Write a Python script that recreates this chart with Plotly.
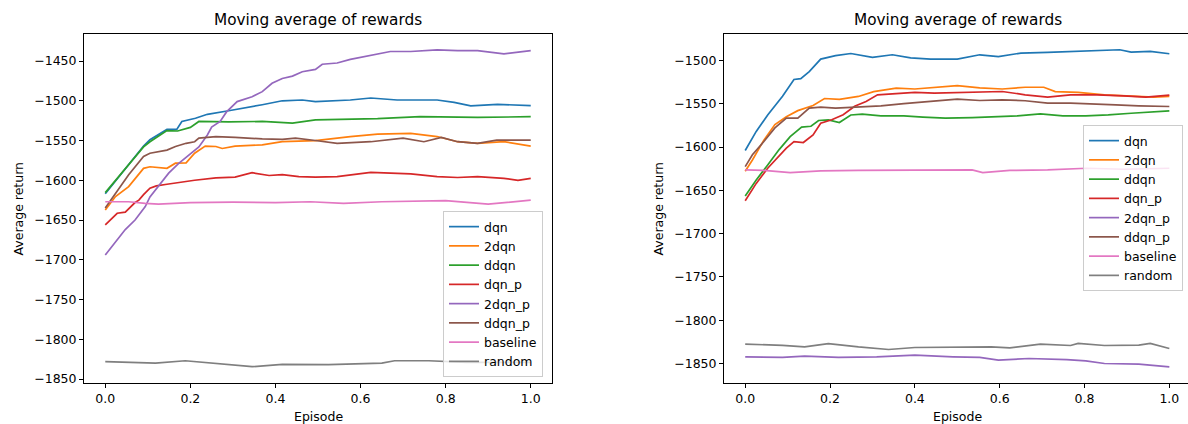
import plotly.graph_objects as go

W, H = 1188, 424
names = ["dqn", "2dqn", "ddqn", "dqn_p", "2dqn_p", "ddqn_p", "baseline", "random"]
colors = ["#1f77b4", "#ff7f0e", "#2ca02c", "#d62728", "#9467bd", "#8c564b", "#e377c2", "#7f7f7f"]

# tick labels
x_ticks = [0, 0.2, 0.4, 0.6, 0.8, 1.0]
x_ticklabels = ["0.0", "0.2", "0.4", "0.6", "0.8", "1.0"]
L_yticks = [-1850, -1800, -1750, -1700, -1650, -1600, -1550, -1500, -1450]
R_yticks = [-1850, -1800, -1750, -1700, -1650, -1600, -1550, -1500]

# ---------- left panel ----------
L_dqn_x = [0, 0.055, 0.09, 0.105, 0.145, 0.168, 0.18, 0.212, 0.24, 0.29, 0.326, 0.369, 0.416, 0.463, 0.494, 0.545, 0.576, 0.624, 0.686, 0.78, 0.82, 0.859, 0.922, 1.0]
L_dqn_y = [-1617, -1581, -1557, -1549, -1536, -1536, -1526, -1522, -1517, -1512.5, -1509.5, -1505, -1500, -1499, -1501, -1500, -1499, -1496.5, -1499, -1499, -1502, -1506.5, -1504.5, -1506]
L_2dqn_x = [0, 0.024, 0.055, 0.09, 0.105, 0.145, 0.165, 0.19, 0.21, 0.235, 0.26, 0.275, 0.305, 0.369, 0.416, 0.494, 0.576, 0.64, 0.718, 0.78, 0.828, 0.875, 0.937, 1.0]
L_2dqn_y = [-1637.5, -1620.5, -1608, -1585, -1583, -1585, -1578.5, -1578, -1566, -1557, -1557.5, -1560, -1557, -1555.5, -1551.5, -1550, -1545, -1542, -1541, -1545, -1551.5, -1553.5, -1551.5, -1557]
L_ddqn_x = [0, 0.055, 0.09, 0.105, 0.145, 0.17, 0.2, 0.22, 0.29, 0.369, 0.44, 0.494, 0.64, 0.74, 0.875, 1.0]
L_ddqn_y = [-1615.5, -1581, -1558, -1551.5, -1537.5, -1538, -1533.5, -1526, -1526.5, -1526, -1528, -1524, -1522.5, -1520, -1521, -1520]
L_dqnp_x = [0, 0.028, 0.047, 0.07, 0.079, 0.09, 0.105, 0.12, 0.145, 0.18, 0.21, 0.26, 0.305, 0.345, 0.385, 0.416, 0.455, 0.494, 0.545, 0.624, 0.67, 0.718, 0.78, 0.828, 0.875, 0.937, 0.97, 1.0]
L_dqnp_y = [-1656, -1641.5, -1640, -1628, -1625, -1618, -1610, -1607, -1605, -1602, -1600, -1597, -1596, -1590.5, -1594, -1593, -1595.5, -1596, -1595.5, -1590, -1591, -1592, -1595.5, -1596.5, -1595.5, -1597.5, -1600, -1597.5]
L_2dqnp_x = [0, 0.024, 0.047, 0.07, 0.094, 0.105, 0.125, 0.149, 0.172, 0.196, 0.22, 0.24, 0.25, 0.27, 0.285, 0.31, 0.345, 0.369, 0.392, 0.416, 0.44, 0.463, 0.494, 0.51, 0.545, 0.576, 0.624, 0.67, 0.718, 0.78, 0.828, 0.875, 0.937, 1.0]
L_2dqnp_y = [-1694, -1677, -1662, -1650, -1633, -1621, -1608, -1591, -1579, -1568, -1558, -1543, -1533, -1526, -1514, -1501, -1495, -1488.5, -1478, -1472, -1469, -1463.5, -1460.5, -1454, -1452.5, -1448, -1442.5, -1438, -1438, -1436, -1437, -1437, -1441, -1437]
L_ddqnp_x = [0, 0.024, 0.055, 0.09, 0.105, 0.145, 0.165, 0.19, 0.21, 0.22, 0.26, 0.305, 0.369, 0.416, 0.447, 0.494, 0.545, 0.624, 0.70, 0.749, 0.79, 0.828, 0.875, 0.92, 1.0]
L_ddqnp_y = [-1635, -1617, -1593, -1570, -1566, -1562, -1557.5, -1553.5, -1551.5, -1547, -1545, -1546, -1548, -1548.5, -1547, -1550, -1553.5, -1551.5, -1547, -1551.5, -1546, -1551.5, -1553.5, -1549.5, -1549.5]
L_base_x = [0, 0.055, 0.094, 0.125, 0.2, 0.3, 0.4, 0.482, 0.56, 0.65, 0.8, 0.9, 1.0]
L_base_y = [-1627, -1627, -1629, -1630, -1628, -1627.5, -1628, -1627, -1629, -1627, -1625.7, -1630, -1625]
L_rand_x = [0, 0.055, 0.118, 0.188, 0.25, 0.345, 0.416, 0.525, 0.65, 0.68, 0.76, 0.85, 0.92, 1.0]
L_rand_y = [-1828, -1829, -1830, -1827, -1830, -1834.5, -1831.5, -1832, -1830, -1827, -1827, -1829, -1829, -1829]

# ---------- right panel ----------
R_dqn_x = [0, 0.026, 0.053, 0.088, 0.115, 0.131, 0.151, 0.178, 0.213, 0.249, 0.30, 0.347, 0.39, 0.437, 0.5, 0.553, 0.597, 0.65, 0.713, 0.767, 0.83, 0.883, 0.91, 0.955, 1.0]
R_dqn_y = [-1604, -1582, -1563, -1541.5, -1522, -1521, -1513, -1498.5, -1494.5, -1492, -1496.5, -1493.5, -1497, -1498.5, -1498.5, -1493.5, -1495.5, -1491.5, -1490.7, -1489.6, -1488.4, -1487.7, -1490.4, -1489.6, -1492.3]
R_2dqn_x = [0, 0.017, 0.044, 0.07, 0.097, 0.124, 0.16, 0.187, 0.222, 0.267, 0.303, 0.356, 0.40, 0.446, 0.5, 0.553, 0.606, 0.66, 0.704, 0.731, 0.785, 0.847, 0.91, 0.963, 1.0]
R_2dqn_y = [-1628, -1615, -1592, -1574, -1565, -1558, -1552, -1544, -1545, -1541.6, -1536, -1532, -1533, -1531, -1529, -1531.6, -1533, -1531, -1531, -1536, -1537, -1539.7, -1541, -1542.4, -1541.6]
R_ddqn_x = [0, 0.026, 0.053, 0.08, 0.106, 0.133, 0.155, 0.173, 0.196, 0.222, 0.249, 0.276, 0.32, 0.374, 0.419, 0.472, 0.535, 0.588, 0.642, 0.696, 0.749, 0.803, 0.856, 0.91, 0.955, 1.0]
R_ddqn_y = [-1656.5, -1638, -1620.7, -1603, -1588, -1577, -1576, -1569.4, -1568.6, -1571.7, -1563, -1562, -1564, -1564, -1565.5, -1566.7, -1566, -1564.8, -1564, -1561.7, -1564, -1564, -1563, -1561, -1559.8, -1558.2]
R_dqnp_x = [0, 0.026, 0.053, 0.08, 0.097, 0.115, 0.137, 0.16, 0.178, 0.204, 0.231, 0.258, 0.285, 0.312, 0.356, 0.40, 0.446, 0.5, 0.553, 0.606, 0.66, 0.713, 0.767, 0.83, 0.892, 0.945, 1.0]
R_dqnp_y = [-1662, -1642, -1624.5, -1611, -1601.4, -1593.7, -1594.8, -1586, -1572.5, -1568.6, -1562.8, -1553, -1547.4, -1539.7, -1538.5, -1537, -1537.8, -1537, -1535.9, -1535.9, -1539.7, -1542.4, -1539.7, -1539.7, -1541, -1542.4, -1540]
R_2dqnp_x = [0, 0.088, 0.14, 0.22, 0.31, 0.4, 0.49, 0.553, 0.597, 0.669, 0.758, 0.803, 0.847, 0.892, 0.928, 1.0]
R_2dqnp_y = [-1842.3, -1843, -1841.5, -1843, -1842.3, -1840.4, -1842.3, -1843, -1846, -1844.2, -1845.4, -1847, -1850, -1850, -1850.8, -1853.9]
R_ddqnp_x = [0, 0.017, 0.044, 0.07, 0.097, 0.124, 0.151, 0.178, 0.213, 0.267, 0.32, 0.374, 0.428, 0.5, 0.553, 0.606, 0.66, 0.713, 0.767, 0.82, 0.874, 0.928, 1.0]
R_ddqnp_y = [-1622.6, -1609, -1593.7, -1578, -1566.7, -1566.7, -1555, -1554, -1555, -1554, -1552.4, -1550, -1547.4, -1544.7, -1546.3, -1545.5, -1546.6, -1549.3, -1549.3, -1550, -1551.3, -1552.4, -1553.2]
R_base_x = [0, 0.044, 0.106, 0.178, 0.267, 0.356, 0.446, 0.535, 0.56, 0.624, 0.713, 0.805, 0.892, 1.0]
R_base_y = [-1626.4, -1627, -1629.5, -1627.6, -1627, -1627, -1626.4, -1626.4, -1629.5, -1627, -1626.4, -1624.5, -1625.7, -1624.5]
R_rand_x = [0, 0.088, 0.14, 0.196, 0.267, 0.338, 0.40, 0.49, 0.58, 0.624, 0.696, 0.767, 0.785, 0.847, 0.928, 0.955, 1.0]
R_rand_y = [-1827.7, -1829, -1830.8, -1827, -1830.8, -1833.8, -1831.5, -1830.8, -1830.8, -1832, -1827.7, -1829.2, -1826.8, -1829.2, -1828.8, -1826.8, -1832.7]

left_series = [(L_dqn_x, L_dqn_y), (L_2dqn_x, L_2dqn_y), (L_ddqn_x, L_ddqn_y), (L_dqnp_x, L_dqnp_y),
               (L_2dqnp_x, L_2dqnp_y), (L_ddqnp_x, L_ddqnp_y), (L_base_x, L_base_y), (L_rand_x, L_rand_y)]
right_series = [(R_dqn_x, R_dqn_y), (R_2dqn_x, R_2dqn_y), (R_ddqn_x, R_ddqn_y), (R_dqnp_x, R_dqnp_y),
                (R_2dqnp_x, R_2dqnp_y), (R_ddqnp_x, R_ddqnp_y), (R_base_x, R_base_y), (R_rand_x, R_rand_y)]

FONT = "DejaVu Sans"
fig = go.Figure()
for i, (xs, ys) in enumerate(left_series):
    fig.add_trace(go.Scatter(x=xs, y=ys, mode="lines", name=names[i], line=dict(color=colors[i], width=1.7),
                             xaxis="x", yaxis="y", legend="legend"))
for i, (xs, ys) in enumerate(right_series):
    fig.add_trace(go.Scatter(x=xs, y=ys, mode="lines", name=names[i], line=dict(color=colors[i], width=1.7),
                             xaxis="x2", yaxis="y2", legend="legend2"))

def px_x(p):
    return p / W

def px_y(p):
    return 1 - p / H

def minus(v):
    return "\u2212" + str(abs(v)) if v < 0 else str(v)

ax_common = dict(showline=True, linecolor="black", linewidth=1, mirror=True, ticks="outside", ticklen=4,
                 tickwidth=1, tickcolor="black", showgrid=False, zeroline=False,
                 tickfont=dict(family=FONT, size=12.5, color="black"), automargin=False)
ydom = [px_y(383), px_y(34)]
fig.update_layout(
    width=W, height=H, margin=dict(l=0, r=0, t=0, b=0),
    paper_bgcolor="white", plot_bgcolor="white",
    font=dict(family=FONT, size=12.5, color="black"),
    xaxis=dict(domain=[px_x(84), px_x(552)], range=[-0.05, 1.05], tickvals=x_ticks, ticktext=x_ticklabels,
               anchor="y", **ax_common),
    yaxis=dict(domain=ydom, range=[-1855, -1416], tickvals=L_yticks, ticktext=[minus(v) for v in L_yticks],
               anchor="x", **ax_common),
    xaxis2=dict(domain=[px_x(724), 1.0], range=[-0.05, 1.044], tickvals=x_ticks, ticktext=x_ticklabels,
                anchor="y2", **ax_common),
    yaxis2=dict(domain=ydom, range=[-1872.5, -1469.5], tickvals=R_yticks, ticktext=[minus(v) for v in R_yticks],
                anchor="x2", **ax_common),
    legend=dict(x=px_x(443), y=px_y(211), xanchor="left", yanchor="top", bgcolor="rgba(255,255,255,0.8)",
                bordercolor="#cccccc", borderwidth=1, font=dict(family=FONT, size=12.5, color="black")),
    legend2=dict(x=px_x(1083), y=px_y(125), xanchor="left", yanchor="top", bgcolor="rgba(255,255,255,0.8)",
                 bordercolor="#cccccc", borderwidth=1, font=dict(family=FONT, size=12.5, color="black")),
)

ann = []
for cx in (318, 957.5):
    ann.append(dict(text="Moving average of rewards", x=px_x(cx), y=px_y(20), xref="paper", yref="paper",
                    showarrow=False, xanchor="center", yanchor="middle", font=dict(family=FONT, size=15.3, color="black")))
for cx in (318, 957.5):
    ann.append(dict(text="Episode", x=px_x(cx), y=px_y(416), xref="paper", yref="paper",
                    showarrow=False, xanchor="center", yanchor="middle", font=dict(family=FONT, size=12.5, color="black")))
for cx in (18, 658):
    ann.append(dict(text="Average return", x=px_x(cx), y=px_y(208.5), xref="paper", yref="paper", textangle=-90,
                    showarrow=False, xanchor="center", yanchor="middle", font=dict(family=FONT, size=12.5, color="black")))
fig.update_layout(annotations=ann)

fig.write_html("out.html")
